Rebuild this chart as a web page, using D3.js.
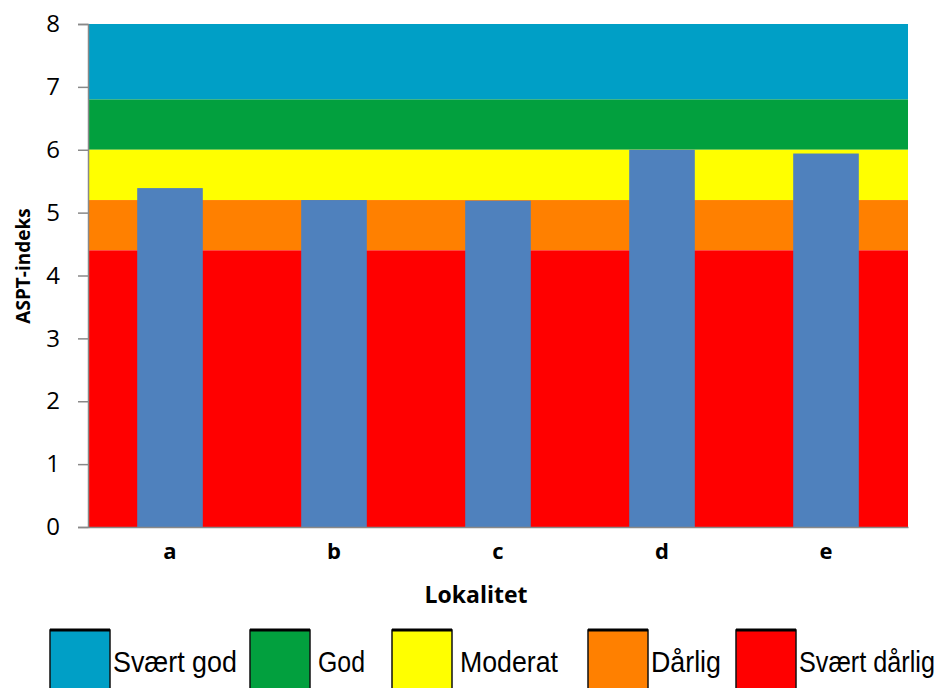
<!DOCTYPE html>
<html>
<head>
<meta charset="utf-8">
<script src="https://cdn.jsdelivr.net/npm/d3@7"></script>
<style>
  html, body { margin: 0; padding: 0; background: #fff; }
  svg { display: block; }
</style>
</head>
<body>
<svg id="chart" width="943" height="688"></svg>
<script>
// Sites and their ASPT index values
const categories = ["a", "b", "c", "d", "e"];
const values = [5.39, 5.2, 5.19, 6.0, 5.94];
const yTicks = [0, 1, 2, 3, 4, 5, 6, 7, 8];

// Quality classes (lower / upper ASPT limits)
const classNames = ["Svært god", "God", "Moderat", "Dårlig", "Svært dårlig"];
const classLower = [6.8, 6.0, 5.2, 4.4, 0];
const classUpper = [8, 6.8, 6.0, 5.2, 4.4];
const classColors = ["#009FC6", "#02A03E", "#FFFF00", "#FF8000", "#FF0000"];

const svg = d3.select("#chart");
const margin = { left: 88, right: 35, top: 24, bottom: 161 };
const W = 943, H = 688;
const plotW = W - margin.left - margin.right;
const plotH = H - margin.top - margin.bottom;

const x = d3.scaleBand().domain(categories).range([margin.left, margin.left + plotW])
  .paddingInner(0.6).paddingOuter(0.3);
const y = d3.scaleLinear().domain([0, 8]).range([margin.top + plotH, margin.top]);

const font = "'Open Sans', Lato, sans-serif";

// Background class bands
svg.append("g").selectAll("rect").data(classNames).join("rect")
  .attr("x", margin.left)
  .attr("width", plotW)
  .attr("y", (d, i) => y(classUpper[i]))
  .attr("height", (d, i) => y(classLower[i]) - y(classUpper[i]))
  .attr("fill", (d, i) => classColors[i]);

// Bars
svg.append("g").selectAll("rect").data(values).join("rect")
  .attr("x", (d, i) => x(categories[i]))
  .attr("width", x.bandwidth())
  .attr("y", d => y(d))
  .attr("height", d => y(0) - y(d))
  .attr("fill", "#4F81BD");

// Y axis
const yAxis = svg.append("g")
  .attr("transform", `translate(${margin.left},0)`)
  .call(d3.axisLeft(y).tickValues(yTicks).tickFormat(d3.format("d")).tickSize(10).tickPadding(18));
yAxis.select(".domain").attr("stroke", "#898989").attr("stroke-width", 1.5);
yAxis.selectAll(".tick line").attr("stroke", "#898989").attr("stroke-width", 1.5);
yAxis.selectAll(".tick text")
  .attr("font-family", font).attr("font-size", 24).attr("fill", "#000");

// X axis
const xAxis = svg.append("g")
  .attr("transform", `translate(0,${y(0)})`)
  .call(d3.axisBottom(x).tickSize(0).tickPadding(16));
xAxis.select(".domain").attr("stroke", "#898989").attr("stroke-width", 1.5);
xAxis.selectAll(".tick text")
  .attr("font-family", font).attr("font-size", 22).attr("font-weight", "bold").attr("fill", "#000");

// Axis titles
svg.append("text")
  .attr("transform", `translate(30,266) rotate(-90)`)
  .attr("text-anchor", "middle")
  .attr("font-family", font).attr("font-size", 19).attr("font-weight", "bold")
  .text("ASPT-indeks");

svg.append("text")
  .attr("x", 476).attr("y", 603)
  .attr("text-anchor", "middle")
  .attr("font-family", font).attr("font-size", 23).attr("font-weight", "bold")
  .text("Lokalitet");

// Legend: swatches plus condensed labels (squeezed horizontally to a set width)
const legendRectX = [50, 250, 392, 588, 736];
const legendTextW = [124, 47, 98, 70, 136];
const leg = svg.append("g").selectAll("g").data(classNames).join("g");
leg.append("rect")
  .attr("x", (d, i) => legendRectX[i]).attr("y", 630)
  .attr("width", 60).attr("height", 62)
  .attr("fill", (d, i) => classColors[i])
  .attr("stroke", "#111").attr("stroke-width", 1.5);
leg.append("line")
  .attr("x1", (d, i) => legendRectX[i]).attr("x2", (d, i) => legendRectX[i] + 60)
  .attr("y1", 630).attr("y2", 630)
  .attr("stroke", "#000").attr("stroke-width", 3);
leg.append("text")
  .attr("font-family", "'Liberation Sans Narrow', 'Liberation Sans', sans-serif")
  .attr("font-size", 30)
  .attr("fill", "#000")
  .text(d => d)
  .each(function (d, i) {
    const natural = this.getComputedTextLength();
    const sx = legendTextW[i] / natural;
    const tx = legendRectX[i] + 63 + (i === 1 || i === 2 ? 5 : 0);
    d3.select(this).attr("transform", `translate(${tx},672) scale(${sx},1)`);
  });
</script>
</body>
</html>
